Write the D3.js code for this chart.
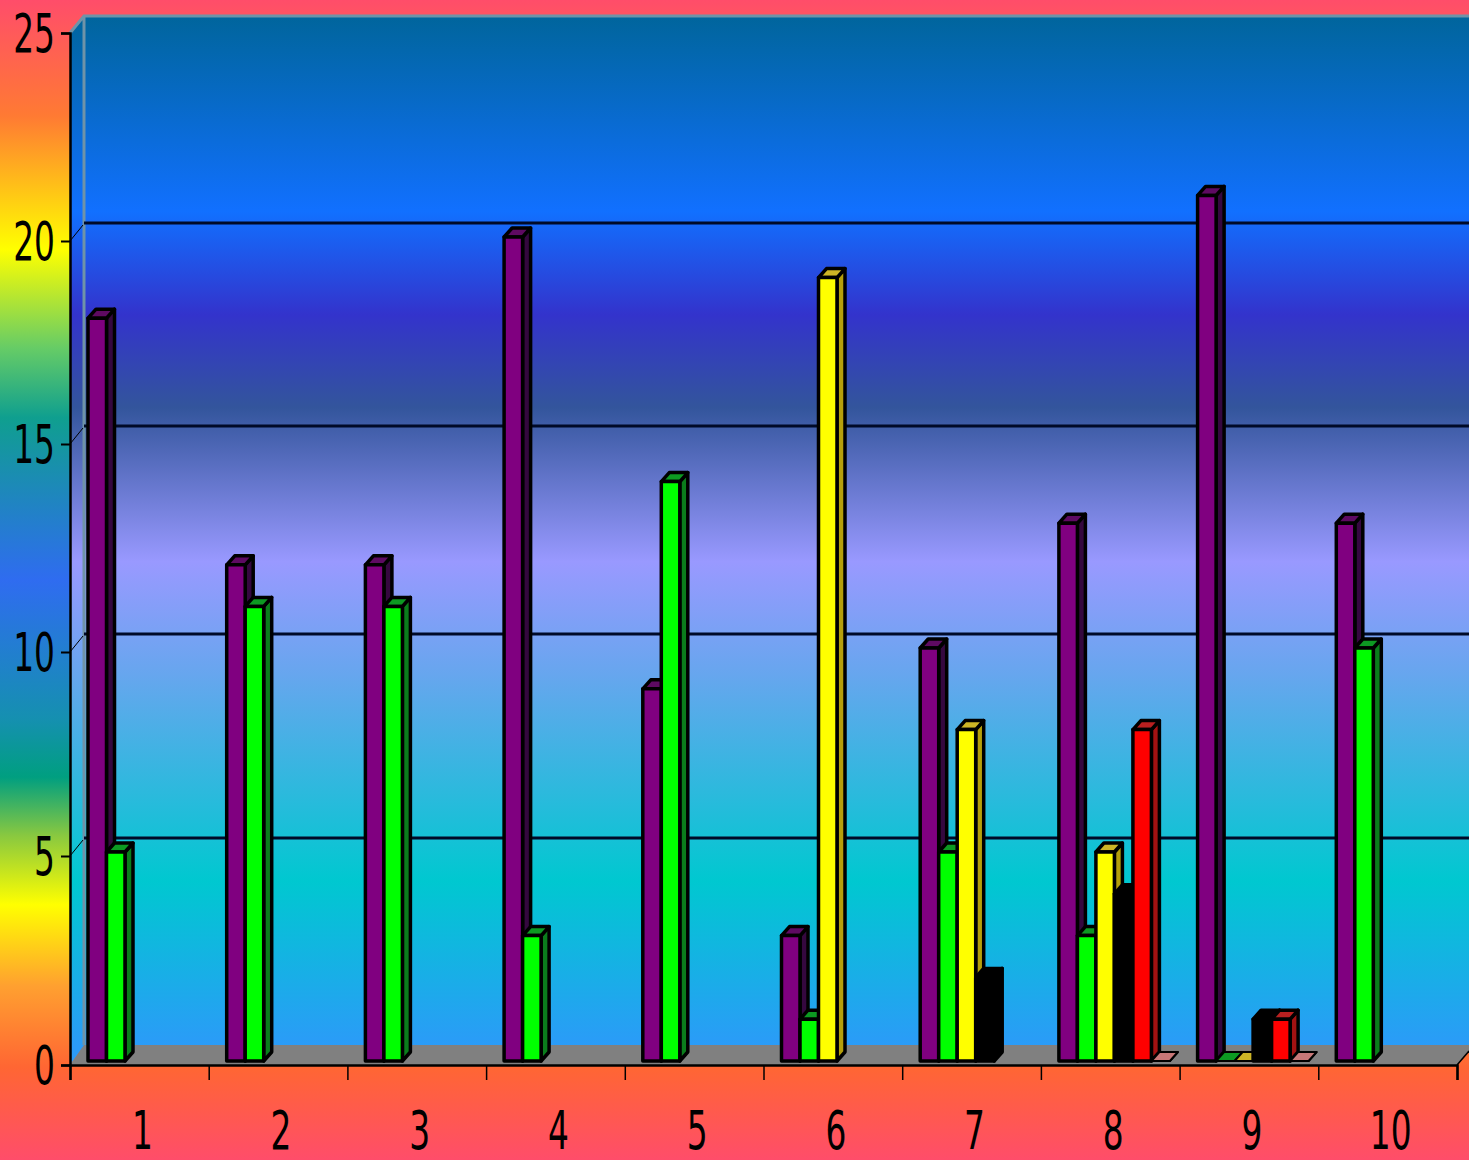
<!DOCTYPE html>
<html>
<head>
<meta charset="utf-8">
<script src="https://cdn.jsdelivr.net/npm/d3@7"></script>
<style>
  html, body { margin: 0; padding: 0; background: #ff4d66; overflow: hidden; }
  svg { display: block; }
  text { font-family: "DejaVu Sans", sans-serif; fill: #000; }
</style>
</head>
<body>
<div id="chart"></div>
<script>
const categories = ["1", "2", "3", "4", "5", "6", "7", "8", "9", "10"];
const seriesNames = ["s1", "s2", "s3", "s4", "s5", "s6"];
const s1 = [18, 12, 12, 20, 9, 3, 10, 13, 21, 13];
const s2 = [5, 11, 11, 3, 14, 1, 5, 3, 0, 10];
const s3 = [null, null, null, null, null, 19, 8, 5, 0, null];
const s4 = [null, null, null, null, null, null, 2, 4, 1, null];
const s5 = [null, null, null, null, null, null, null, 8, 1, null];
const s6 = [null, null, null, null, null, null, null, 0, 0, null];
const yTicks = [0, 5, 10, 15, 20, 25];

const width = 1469, height = 1160;
const depthX = 8, depthY = 9;   // bar depth
const wallX = 14, wallY = 18;   // back wall offset
const barLift = 4;

const svg = d3.select("#chart").append("svg").attr("width", width).attr("height", height);

const x = d3.scaleBand().domain(categories).range([70, 1457]);
const x1 = d3.scaleBand().domain(seriesNames).range([18, 129]);
const xEdges = d3.scaleLinear().domain([0, 10]).range([70, 1457]);
// the original's ticks are rounded unevenly, so the scale follows them
const y = d3.scaleLinear().domain(yTicks).range([1065, 856, 652, 444, 241, 33]);

const front = d3.scaleOrdinal().domain(seriesNames).range(["#800080", "#00ff00", "#ffff00", "#000000", "#ff0000", "#ff9999"]);
const side = d3.scaleOrdinal().domain(seriesNames).range(["#35083f", "#0b7d1c", "#b59f0c", "#000000", "#a31212", "#b06a6a"]);
const top_ = d3.scaleOrdinal().domain(seriesNames).range(["#5e0a62", "#0d9a22", "#cdb526", "#000000", "#b82020", "#c87878"]);

// Gradients
const defs = svg.append("defs");
function gradient(id, y1, y2, stops) {
  const g = defs.append("linearGradient").attr("id", id)
    .attr("gradientUnits", "userSpaceOnUse")
    .attr("x1", 0).attr("x2", 0).attr("y1", y1).attr("y2", y2);
  stops.forEach(s => g.append("stop").attr("offset", s[0]).attr("stop-color", s[1]));
}
gradient("bg", 0, 1160, [
  [0, "#ff4d6a"], [0.10, "#ff7a33"], [0.215, "#ffff00"], [0.30, "#66cc66"],
  [0.36, "#0f9f8f"], [0.50, "#2f6cf0"], [0.62, "#1590b0"], [0.67, "#009f80"],
  [0.72, "#88c840"], [0.78, "#ffff00"], [0.85, "#ffa030"], [0.92, "#ff6633"], [1, "#ff4d6a"]
]);
gradient("wall", 16, 1046, [
  [0, "#00659c"], [0.19, "#1170ff"], [0.29, "#3333cc"], [0.38, "#33559c"],
  [0.53, "#9999ff"], [0.64, "#66a6ee"], [0.84, "#00c8d0"], [1, "#2b9bf8"]
]);

svg.append("rect").attr("width", width).attr("height", height).attr("fill", "url(#bg)");

// Walls and floor
const x0 = x.range()[0], xEnd = x.range()[1];
svg.append("polygon")
  .attr("points", [[x0, y(25)], [x0 + wallX, y(25) - wallY + 1], [width, y(25) - wallY + 1], [width, y(0) - wallY - 1], [x0 + wallX, y(0) - wallY - 1], [x0, y(0)]].join(" "))
  .attr("fill", "url(#wall)");
svg.append("polygon")
  .attr("points", [[x0, y(0)], [x0 + wallX, y(0) - 20], [width, y(0) - 20], [width, y(0) - 14], [xEnd, y(0)]].join(" "))
  .attr("fill", "#808080");
svg.append("path")
  .attr("d", `M${x0},${y(25)}L${x0 + wallX},${y(25) - wallY + 1}L${width},${y(25) - wallY + 1}M${x0 + wallX},${y(25) - wallY + 1}L${x0 + wallX},${y(0) - 20}`)
  .attr("fill", "none").attr("stroke", "#6f93a8").attr("stroke-width", 3);

// Gridlines on the back wall
svg.selectAll("line.grid").data(yTicks.filter(d => d > 0 && d < 25)).enter().append("line")
  .attr("class", "grid")
  .attr("x1", x0 + wallX).attr("x2", width)
  .attr("y1", d => y(d) - wallY).attr("y2", d => y(d) - wallY)
  .attr("stroke", "#000a28").attr("stroke-width", 3);
svg.selectAll("line.slant").data(yTicks.filter(d => d > 0 && d < 25)).enter().append("line")
  .attr("class", "slant")
  .attr("x1", x0).attr("x2", x0 + wallX - 1)
  .attr("y1", d => y(d)).attr("y2", d => y(d) - wallY + 2)
  .attr("stroke", "#000").attr("stroke-width", 1);
svg.append("line")
  .attr("x1", xEnd).attr("x2", width).attr("y1", y(0)).attr("y2", y(0) - 14)
  .attr("stroke", "#000").attr("stroke-width", 1.5);

// Bars
const series = [s1, s2, s3, s4, s5, s6];
const barData = [];
categories.forEach((c, i) => {
  seriesNames.forEach((s, j) => {
    if (series[j][i] !== null) barData.push({ cat: c, name: s, value: series[j][i] });
  });
});

const bars = svg.selectAll("g.bar").data(barData).enter().append("g").attr("class", "bar")
  .attr("stroke", "#000").attr("stroke-width", 3.5).attr("stroke-linejoin", "round");

const bx = d => x(d.cat) + x1(d.name);
const bw = x1.bandwidth();
const bTop = d => y(d.value) - barLift;
const bBase = y(0) - barLift;

bars.append("polygon")
  .attr("fill", d => side(d.name))
  .attr("points", d => [[bx(d) + bw, bTop(d)], [bx(d) + bw + depthX, bTop(d) - depthY], [bx(d) + bw + depthX, bBase - depthY], [bx(d) + bw, bBase]].join(" "));
bars.append("polygon")
  .attr("fill", d => top_(d.name))
  .attr("points", d => [[bx(d), bTop(d)], [bx(d) + depthX, bTop(d) - depthY], [bx(d) + bw + depthX, bTop(d) - depthY], [bx(d) + bw, bTop(d)]].join(" "));
bars.filter(d => d.value === 0).attr("stroke-width", 2);
bars.filter(d => d.value > 0).append("rect")
  .attr("x", bx).attr("y", bTop)
  .attr("width", bw).attr("height", d => bBase - bTop(d))
  .attr("fill", d => front(d.name));

// Axes
const narrow = 0.62;
const yAxis = svg.append("g").attr("transform", `translate(${x0},0)`)
  .call(d3.axisLeft(y).tickValues(yTicks).tickSize(9).tickPadding(6));
yAxis.select(".domain").attr("stroke", "#000").attr("stroke-width", 2.5);
yAxis.selectAll(".tick line").attr("stroke", "#000").attr("stroke-width", 2);
yAxis.selectAll(".tick text")
  .attr("font-size", 53).attr("font-family", "DejaVu Sans").attr("fill", "#000")
  .attr("x", -15 / narrow).attr("dy", "0.34em")
  .attr("transform", `scale(${narrow},1)`);

const xTickAxis = svg.append("g").attr("transform", `translate(0,${y(0)})`)
  .call(d3.axisBottom(xEdges).ticks(10).tickSize(15).tickFormat(""));
xTickAxis.select(".domain").attr("stroke", "#000").attr("stroke-width", 2.5);
xTickAxis.selectAll(".tick line").attr("stroke", "#000").attr("stroke-width", 1.5);

const xLabels = svg.append("g").attr("transform", `translate(3,${y(0)})`)
  .call(d3.axisBottom(x).tickSize(0));
xLabels.select(".domain").remove();
xLabels.selectAll(".tick text")
  .attr("font-size", 53).attr("font-family", "DejaVu Sans").attr("fill", "#000")
  .attr("y", 46).attr("dy", "0.71em")
  .attr("transform", `scale(${narrow},1)`);
</script>
</body>
</html>
